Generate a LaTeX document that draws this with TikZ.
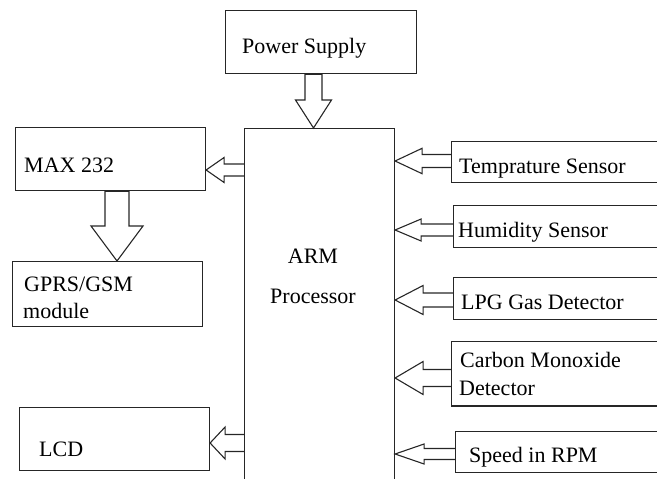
\documentclass[tikz,border=0pt]{standalone}
\usepackage{fontspec}
\newfontfamily\tnrfont{Liberation Serif}
\usetikzlibrary{calc}
\tikzset{
  box/.style={draw=black!85, line width=1.1pt, rectangle, inner sep=0pt, anchor=north west},
  blk/.style={draw=black!85, line width=1.1pt},
  txt/.style={inner sep=0pt, anchor=base west, font=\tnrfont\fontsize{22}{26}\selectfont},
  ctxt/.style={inner sep=0pt, anchor=base, font=\tnrfont\fontsize{22}{26}\selectfont}
}
\newcommand{\blkleft}[6]{%
  \path (0,#3) coordinate (yy);
  \path (#1.west |- yy) coordinate (bb) (#2.east |- yy) coordinate (tt);
  \draw[blk] ($(bb)+(0,-#4)$) -- ($(tt)+(#6,-#4)$) -- ($(tt)+(#6,-#5)$) -- (tt)
    -- ($(tt)+(#6,#5)$) -- ($(tt)+(#6,#4)$) -- ($(bb)+(0,#4)$);
}
\newcommand{\blkdown}[6]{%
  \path (#3,0) coordinate (xx);
  \path (xx |- #1.south) coordinate (bb) (xx |- #2.north) coordinate (tt);
  \draw[blk] ($(bb)+(-#4,0)$) -- ($(tt)+(-#4,-#6)$) -- ($(tt)+(-#5,-#6)$) -- (tt)
    -- ($(tt)+(#5,-#6)$) -- ($(tt)+(#4,-#6)$) -- ($(bb)+(#4,0)$);
  \draw[blk, line width=2.5pt] ($(bb)+(-#4,0)$) -- ($(bb)+(#4,0)$);
}
\begin{document}
\begin{tikzpicture}[x=1pt,y=-1pt]
\useasboundingbox (0,0) rectangle (657,479);
% boxes
\node[box, minimum width=191pt, minimum height=63pt] (ps) at (225,10) {};
\node[box, minimum width=150pt, minimum height=360pt] (arm) at (244,128) {};
\node[box, minimum width=220pt, minimum height=41pt] (temp) at (451,141) {};
\node[box, minimum width=220pt, minimum height=42pt] (hum) at (453,205) {};
\node[box, minimum width=220pt, minimum height=42pt] (lpg) at (453,277) {};
\node[box, minimum width=220pt, minimum height=64pt] (co) at (451,341) {};
\draw[blk, line width=2.2pt] (co.south west) -- (co.south east);
\node[box, minimum width=220pt, minimum height=41pt] (spd) at (455,431) {};
\node[box, minimum width=190pt, minimum height=63pt] (max) at (15,127) {};
\node[box, minimum width=190pt, minimum height=65pt] (gprs) at (12,261) {};
\node[box, minimum width=190pt, minimum height=63pt] (lcd) at (19,407) {};
% texts
\node[txt] (tps) at (242,53) {Power Supply};
\node[txt] (tmax) at (24,172) {MAX 232};
\node[txt] (tg1) at (24,291) {GPRS/GSM};
\node[txt] (tg2) at (23,318) {module};
\node[txt] (tlcd) at (39,456) {LCD};
\node[ctxt] (tarm1) at (313,263) {ARM};
\node[ctxt] (tarm2) at (313,303) {Processor};
\node[txt] (ttemp) at (459,173) {Temprature Sensor};
\node[txt] (thum) at (458,237) {Humidity Sensor};
\node[txt] (tlpg) at (461,309) {LPG Gas Detector};
\node[txt] (tco1) at (460,367) {Carbon Monoxide};
\node[txt] (tco2) at (459,395) {Detector};
\node[txt] (tspd) at (469,462) {Speed in RPM};
% block arrows
\blkdown{ps}{arm}{313.5}{8.5}{18}{28}
\blkdown{max}{gprs}{117}{12}{26}{35}
\blkleft{arm}{max}{170}{6}{12.5}{18}
\blkleft{arm}{lcd}{443}{8.5}{16}{15}
\blkleft{temp}{arm}{161}{6.5}{12.7}{27}
\blkleft{hum}{arm}{230}{6}{11}{26}
\blkleft{lpg}{arm}{300}{7}{14.5}{28}
\blkleft{co}{arm}{378}{8.5}{16.5}{28}
\blkleft{spd}{arm}{454}{5.5}{10}{29}
\end{tikzpicture}
\end{document}
